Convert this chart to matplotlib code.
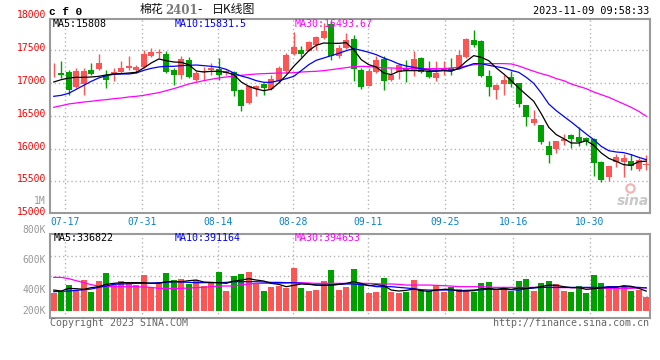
import matplotlib
matplotlib.use("Agg")
import matplotlib.pyplot as plt

plt.rcParams['font.family'] = ['DejaVu Sans Mono', 'Noto Sans CJK SC']

W, H = 660, 360
RED = "#fa5656"
GREEN = "#00a000"
GRID = "#b4b4b4"
BORDER = "#9a9a9a"

# daily K line, 80 trading days
opens = [17225, 17154, 17169, 16940, 16986, 17200, 17220, 17113, 17144, 17164,
         17231, 17195, 17241, 17419, 17454, 17444, 17200, 17129, 17348, 17052,
         17164, 17205, 17220, 17154, 17169, 16900, 16696, 16915, 16991, 16915,
         17027, 17180, 17449, 17510, 17495, 17577, 17689, 17902, 17409, 17536,
         17673, 17205, 16961, 17169, 17368, 17042, 17169, 17231, 17205, 17383,
         17180, 17078, 17180, 17225, 17231, 17393, 17658, 17648, 17103, 16900,
         16986, 17088, 16996, 16660, 16391, 16360, 16045, 15999, 16111, 16213,
         16177, 16162, 16151, 15795, 15561, 15795, 15795, 15815, 15693, 15754]
highs = [17300, 17342, 17200, 17231, 17231, 17307, 17444, 17205, 17231, 17332,
         17419, 17281, 17510, 17536, 17526, 17485, 17231, 17419, 17393, 17180,
         17241, 17312, 17383, 17205, 17190, 16910, 16976, 16976, 17001, 17129,
         17256, 17459, 17780, 17572, 17638, 17724, 17918, 17943, 17587, 17765,
         17740, 17231, 17231, 17409, 17409, 17231, 17307, 17358, 17495, 17398,
         17332, 17332, 17342, 17383, 17510, 17689, 17806, 17663, 17205, 16986,
         17119, 17180, 17001, 16670, 16594, 16365, 16111, 16121, 16223, 16223,
         16324, 16172, 16162, 15805, 15734, 15918, 15918, 15918, 15856, 15907]
lows = [17100, 17078, 16823, 16925, 16823, 17125, 17205, 16925, 17027, 17154,
        17205, 17154, 17231, 17398, 17383, 17154, 16976, 17068, 17078, 17027,
        17052, 17129, 17052, 17119, 16798, 16579, 16680, 16798, 16823, 16900,
        17001, 17154, 17434, 17393, 17485, 17510, 17678, 17358, 17383, 17526,
        17037, 16915, 16950, 17154, 16900, 17027, 17068, 17012, 17113, 17154,
        17078, 17027, 17129, 17129, 17220, 17383, 17546, 17093, 16808, 16762,
        16823, 16940, 16630, 16350, 16365, 16075, 15780, 15933, 16060, 16009,
        16034, 16050, 15586, 15485, 15500, 15719, 15566, 15678, 15653, 15678]
closes = [17235, 17119, 16900, 17190, 17180, 17144, 17307, 17052, 17164, 17231,
          17266, 17241, 17444, 17475, 17475, 17175, 17129, 17373, 17093, 17154,
          17180, 17231, 17119, 17180, 16874, 16645, 16950, 16950, 16925, 17063,
          17231, 17434, 17551, 17449, 17622, 17704, 17790, 17419, 17536, 17663,
          17220, 16940, 17190, 17358, 17027, 17119, 17281, 17180, 17368, 17164,
          17093, 17154, 17231, 17195, 17434, 17678, 17587, 17113, 16940, 16976,
          17052, 16986, 16681, 16482, 16457, 16101, 15907, 16111, 16151, 16151,
          16101, 16121, 15780, 15525, 15729, 15866, 15856, 15729, 15831, 15764]

ma5 = [17017, 17052, 17078, 17088, 17088, 17093, 17103, 17124, 17139, 17144,
       17154, 17164, 17231, 17307, 17368, 17342, 17322, 17317, 17281, 17185,
       17169, 17180, 17180, 17164, 17129, 17017, 16950, 16910, 16884, 16905,
       17001, 17119, 17256, 17373, 17495, 17577, 17612, 17607, 17607, 17617,
       17510, 17358, 17281, 17246, 17154, 17129, 17180, 17190, 17190, 17190,
       17180, 17180, 17190, 17180, 17231, 17332, 17419, 17393, 17342, 17231,
       17139, 17037, 16925, 16823, 16722, 16533, 16325, 16213, 16151, 16085,
       16085, 16121, 16050, 15933, 15851, 15805, 15754, 15744, 15800, 15808]
ma10 = [16798, 16813, 16844, 16905, 16966, 17027, 17078, 17113, 17134, 17139,
        17139, 17154, 17195, 17225, 17246, 17256, 17256, 17266, 17271, 17276,
        17266, 17256, 17241, 17210, 17154, 17108, 17078, 17037, 17012, 17012,
        17037, 17068, 17103, 17190, 17281, 17348, 17383, 17419, 17454, 17495,
        17526, 17500, 17470, 17434, 17383, 17342, 17292, 17261, 17241, 17220,
        17200, 17195, 17195, 17195, 17215, 17256, 17297, 17297, 17271, 17251,
        17231, 17195, 17164, 17088, 16996, 16849, 16681, 16579, 16492, 16406,
        16314, 16223, 16136, 16034, 15968, 15948, 15938, 15907, 15866, 15831]
ma30 = [16630, 16655, 16681, 16696, 16711, 16722, 16737, 16747, 16762, 16772,
        16788, 16798, 16813, 16834, 16854, 16884, 16915, 16950, 16986, 17012,
        17037, 17058, 17078, 17093, 17108, 17119, 17129, 17139, 17144, 17149,
        17154, 17154, 17159, 17169, 17175, 17180, 17190, 17205, 17220, 17236,
        17251, 17256, 17251, 17241, 17231, 17231, 17225, 17225, 17220, 17220,
        17220, 17220, 17220, 17231, 17241, 17261, 17281, 17297, 17297, 17297,
        17297, 17292, 17261, 17220, 17180, 17144, 17113, 17068, 17037, 16986,
        16950, 16915, 16864, 16823, 16783, 16732, 16681, 16630, 16569, 16494]

# volume, thousands
volume = [310, 327, 441, 355, 527, 321, 510, 648, 441, 510,
          482, 441, 613, 401, 482, 648, 527, 545, 459, 527,
          424, 470, 665, 338, 596, 631, 665, 482, 338, 407,
          430, 390, 734, 390, 338, 355, 510, 699, 355, 407,
          717, 470, 304, 321, 562, 321, 304, 321, 527, 355,
          338, 441, 321, 407, 373, 355, 321, 476, 493, 355,
          373, 338, 510, 545, 338, 476, 510, 459, 338, 321,
          424, 304, 613, 476, 424, 390, 407, 338, 355, 235]
vma5 = [355, 338, 384, 378, 367, 396, 413, 453, 470, 482,
        482, 482, 482, 470, 470, 499, 499, 499, 516, 527,
        493, 487, 482, 470, 510, 527, 550, 527, 510, 470,
        453, 413, 436, 459, 453, 441, 436, 441, 453, 470,
        499, 470, 430, 447, 430, 355, 338, 350, 373, 344,
        333, 355, 367, 367, 338, 338, 344, 373, 384, 367,
        384, 367, 390, 384, 396, 413, 441, 436, 413, 396,
        396, 367, 378, 390, 401, 401, 430, 419, 384, 337]
vma10 = [327, 333, 338, 350, 361, 373, 401, 424, 453, 459,
         464, 470, 470, 476, 482, 487, 499, 493, 487, 482,
         482, 482, 482, 487, 499, 499, 499, 499, 493, 487,
         487, 482, 482, 470, 459, 441, 441, 441, 453, 459,
         459, 447, 436, 413, 413, 413, 401, 390, 378, 361,
         355, 355, 355, 355, 344, 350, 355, 361, 367, 367,
         367, 361, 355, 378, 390, 401, 401, 401, 401, 401,
         401, 401, 401, 401, 413, 413, 413, 407, 401, 391]
vma30 = [573, 573, 550, 516, 482, 447, 424, 419, 413, 413,
         413, 413, 407, 401, 384, 384, 384, 384, 390, 396,
         401, 413, 424, 424, 424, 447, 459, 470, 470, 470,
         470, 476, 482, 482, 476, 470, 470, 470, 470, 470,
         470, 470, 470, 464, 459, 459, 453, 441, 441, 441,
         441, 436, 430, 424, 413, 413, 413, 413, 407, 401,
         401, 401, 401, 401, 401, 401, 401, 396, 396, 396,
         396, 396, 390, 390, 384, 384, 384, 384, 390, 395]

date_labels = ["07-17", "07-31", "08-14", "08-28", "09-11", "09-25", "10-16", "10-30"]
date_pos = [1.5, 11.73, 21.86, 31.94, 41.94, 52.17, 61.27, 71.5]
price_ticks = [18000, 17500, 17000, 16500, 16000, 15500, 15000]
vol_labels = [("1M", 200.7), ("800K", 230.5), ("600K", 260), ("400K", 290.3), ("200K", 310.7)]


def fx(x):
    return x / W


def fy(y):
    return 1 - y / H


fig = plt.figure(figsize=(W / 100, H / 100), dpi=100)
ax = fig.add_axes([fx(50), fy(213.3), 600 / W, (213.3 - 18.5) / H])
axv = fig.add_axes([fx(50), fy(318.3), 600 / W, 84 / H])

xs = list(range(len(closes)))
cols = [RED if c >= o else GREEN for o, c in zip(opens, closes)]

# ---- price panel
ax.vlines(xs, lows, highs, colors=cols, linewidth=1, zorder=2)
body_lo = [min(o, c) for o, c in zip(opens, closes)]
body_h = [max(abs(c - o), 12) for o, c in zip(opens, closes)]
ax.bar(xs, body_h, 0.8, bottom=body_lo, color=cols, linewidth=0, zorder=3)
ax.plot(xs, ma30, color="#ff00ff", linewidth=0.9, zorder=4)
ax.plot(xs, ma10, color="#0000ff", linewidth=0.9, zorder=4)
ax.plot(xs, ma5, color="black", linewidth=0.9, zorder=4)

for p in price_ticks[1:-1]:
    ax.axhline(p, color=GRID, linestyle=(0, (1, 2)), linewidth=1, zorder=1)
for g in date_pos:
    ax.axvline(g, color=GRID, linestyle=(0, (1, 2)), linewidth=1, zorder=1)
    axv.axvline(g, color=GRID, linestyle=(0, (1, 2)), linewidth=1, zorder=1)

ax.set_xlim(-0.5, 79.5)
ax.set_ylim(15012, 17986)

for p in price_ticks:
    ax.annotate(str(p), xy=(0, p), xycoords=("axes fraction", "data"),
                xytext=(-3, 1.5), textcoords="offset points",
                ha="right", va="center", fontsize=7, color="#ff0000",
                annotation_clip=False)

for lab, g in zip(date_labels, date_pos):
    ax.annotate(lab, xy=(g, 0), xycoords=("data", "axes fraction"),
                xytext=(0, -6.1), textcoords="offset points",
                ha="center", va="center", fontsize=7, color="#0a80d0",
                annotation_clip=False)

# sina watermark
ax.plot([0.966], [0.13], "o", transform=ax.transAxes, ms=6, mfc="none",
        mec="#f2b4b4", mew=1.6, zorder=5)
ax.text(0.998, 0.065, "sina", transform=ax.transAxes, ha="right", va="center",
        fontsize=10, fontweight="bold", style="italic", color="#c8c8c8",
        family="DejaVu Sans", zorder=5)

# ---- volume panel
vol = [v * 1000 for v in volume]
axv.bar(xs, vol, 0.8, color=cols, linewidth=0, zorder=2)
axv.plot(xs, [v * 1000 for v in vma30], color="#ff00ff", linewidth=0.9, zorder=4)
axv.plot(xs, [v * 1000 for v in vma10], color="#0000ff", linewidth=0.9, zorder=4)
axv.plot(xs, [v * 1000 for v in vma5], color="black", linewidth=0.9, zorder=4)
for f in (0.27, 0.507, 0.745):
    axv.plot([0, 1], [f, f], transform=axv.transAxes, color=GRID,
             linestyle=(0, (1, 2)), linewidth=1, zorder=1)
axv.set_xlim(-0.5, 79.5)
axv.set_ylim(-131000, 1314000)

for a in (ax, axv):
    a.set_xticks([])
    a.set_yticks([])
    for s in a.spines.values():
        s.set_color(BORDER)
        s.set_linewidth(1.5)

for lab, y in vol_labels:
    fig.text(fx(46), fy(y), lab, ha="right", va="center", fontsize=7, color="#999999")

# ---- header texts
fig.text(fx(49), fy(12), "c f 0", ha="left", va="center", fontsize=8,
         fontweight="bold", family="Liberation Mono", color="black")
fig.text(fx(140), fy(9.5), "棉花", ha="left", va="center", fontsize=8.6,
         family=["Noto Sans CJK SC", "DejaVu Sans"], color="#111111")
fig.text(fx(165), fy(10.5), "2401", ha="left", va="center", fontsize=8.5,
         family="DejaVu Serif", fontweight="bold", color="#777777")
fig.text(fx(200), fy(9.5), "-", ha="center", va="center", fontsize=8.6,
         family="DejaVu Sans", color="#111111")
fig.text(fx(212), fy(9.5), "日K线图", ha="left", va="center", fontsize=8.6,
         family=["Noto Sans CJK SC", "DejaVu Sans"], color="#111111")
fig.text(fx(649), fy(11.5), "2023-11-09 09:58:33", ha="right", va="center",
         fontsize=7.3, color="black")

fig.text(fx(53), fy(24), "MA5:15808", ha="left", va="center", fontsize=7.2, color="black")
fig.text(fx(175), fy(24), "MA10:15831.5", ha="left", va="center", fontsize=7.2, color="#0000ff")
fig.text(fx(295), fy(24), "MA30:16493.67", ha="left", va="center", fontsize=7.2, color="#ff00ff")

fig.text(fx(54), fy(238.3), "MA5:336822", ha="left", va="center", fontsize=7.2, color="black")
fig.text(fx(175), fy(238.3), "MA10:391164", ha="left", va="center", fontsize=7.2, color="#0000ff")
fig.text(fx(295), fy(238.3), "MA30:394653", ha="left", va="center", fontsize=7.2, color="#ff00ff")

fig.text(fx(50), fy(323.3), "Copyright 2023 SINA.COM", ha="left", va="center",
         fontsize=7.2, color="#666666")
fig.text(fx(649), fy(323.3), "http://finance.sina.com.cn", ha="right", va="center",
         fontsize=7.2, color="#666666")

fig.savefig("out.png", dpi=100, facecolor="white")
